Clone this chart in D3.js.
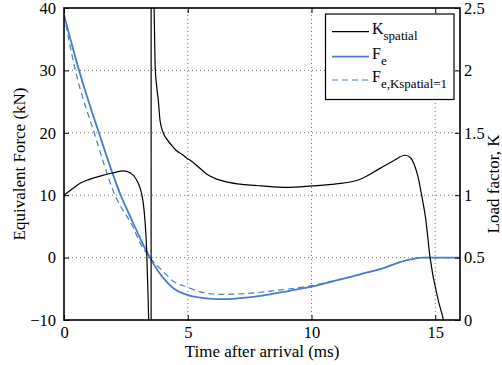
<!DOCTYPE html>
<html>
<head>
<meta charset="utf-8">
<script src="https://cdn.jsdelivr.net/npm/d3@7"></script>
<style>
  html, body { margin: 0; padding: 0; background: #fff; }
  svg { display: block; }
  svg text { font-family: "Liberation Serif", "DejaVu Serif", "Times New Roman", Tinos, serif; }
</style>
</head>
<body>
<svg id="chart" width="502" height="365"></svg>
<script>
// ---- data ----
const timeK = [0, 0.3, 0.65, 1.0, 1.5, 2.0, 2.4, 2.67, 2.91, 3.0, 3.1, 3.2, 3.27, 3.34, 3.38, 3.42, 3.46, 3.5, 3.515,
  3.525, 3.56, 3.6, 3.64, 3.68, 3.74, 3.81, 3.88, 4.01, 4.19, 4.35, 4.53, 4.82, 4.96, 5.1, 5.23, 5.49, 5.76, 6.1,
  6.6, 7.3, 8.0, 9, 10, 11, 12, 12.77, 13.3, 13.78, 14.0, 14.18, 14.3, 14.45, 14.61, 14.79, 15.12, 15.32, 15.4];
const kSpatial = [1.0, 1.045, 1.095, 1.125, 1.155, 1.18, 1.195, 1.18, 1.13, 1.095, 1.04, 0.94, 0.80, 0.56, 0.30, 0.0, -0.6, -4, -60,
  60, 6, 3.2, 2.5, 2.05, 1.88, 1.76, 1.6, 1.5, 1.44, 1.40, 1.36, 1.32, 1.296, 1.28, 1.26, 1.216, 1.17, 1.135,
  1.105, 1.085, 1.074, 1.063, 1.074, 1.09, 1.13, 1.215, 1.274, 1.32, 1.30, 1.23, 1.15, 1.0, 0.815, 0.5, 0.16, 0.01, -0.06];

const timeF = [0, 0.61, 1.41, 2.29, 2.8, 3.1, 3.47, 4.0, 4.42, 5.0, 5.5, 6.0, 6.5, 7.0, 8.0, 9.0, 10.0, 11.0, 12.0, 13.0, 13.6, 14.0, 14.5, 16];
const forceE = [38.9, 30, 20, 10, 5.5, 2.9, 0, -3.2, -4.9, -6.0, -6.4, -6.6, -6.65, -6.55, -6.1, -5.4, -4.65, -3.65, -2.65, -1.55, -0.7, -0.3, 0, 0];

const timeF1 = [0, 0.46, 1.22, 2.06, 2.8, 3.07, 3.47, 4.0, 4.42, 5.0, 5.5, 6.0, 6.5, 7.4, 8.7, 10.0, 11.0, 12.0, 13.0, 13.6, 14.0, 14.5, 16];
const forceE1 = [38.9, 30, 20, 10, 4.8, 2.4, 0, -2.2, -3.8, -4.75, -5.5, -5.83, -5.9, -5.75, -5.2, -4.5, -3.6, -2.65, -1.5, -0.7, -0.3, 0, 0];

const xTicks = [0, 5, 10, 15];
const yTicksF = [-10, 0, 10, 20, 30, 40];
const yTicksK = [0, 0.5, 1, 1.5, 2, 2.5];
const xTitle = "Time after arrival (ms)";
const yTitleLeft = "Equivalent Force (kN)";
const yTitleRight = "Load factor, K";

// ---- layout ----
const L = 64, R = 460, T = 8, B = 320;
const blue = "#4a7cc9";
const svg = d3.select("#chart");
const x = d3.scaleLinear().domain([0, 16]).range([L, R]);
const yF = d3.scaleLinear().domain([-10, 40]).range([B, T]);
const yK = d3.scaleLinear().domain([0, 2.5]).range([B, T]);

svg.append("defs").append("clipPath").attr("id", "plotclip")
  .append("rect").attr("x", L).attr("y", T).attr("width", R - L).attr("height", B - T);

// grid
const grid = svg.append("g").attr("stroke", "#555").attr("stroke-width", 0.8).attr("stroke-dasharray", "1,3");
grid.selectAll(".gx").data(xTicks.filter(d => d > 0)).join("line")
  .attr("x1", d => x(d)).attr("x2", d => x(d)).attr("y1", B).attr("y2", T);
grid.selectAll(".gy").data(yTicksF.filter(d => d > -10 && d < 40)).join("line")
  .attr("y1", d => yF(d)).attr("y2", d => yF(d)).attr("x1", L).attr("x2", R);

// lines
const plot = svg.append("g").attr("clip-path", "url(#plotclip)");
const lineK = d3.line().x(d => x(d[0])).y(d => yK(d[1])).curve(d3.curveMonotoneX);
const lineF = d3.line().x(d => x(d[0])).y(d => yF(d[1])).curve(d3.curveMonotoneX);

plot.append("path").datum(timeF1.map((t, i) => [t, forceE1[i]]))
  .attr("d", lineF).attr("fill", "none").attr("stroke", blue).attr("stroke-width", 1.2).attr("stroke-dasharray", "6,4");
plot.append("path").datum(timeF.map((t, i) => [t, forceE[i]]))
  .attr("d", lineF).attr("fill", "none").attr("stroke", blue).attr("stroke-width", 1.8);
plot.append("path").datum(timeK.map((t, i) => [t, kSpatial[i]]))
  .attr("d", lineK).attr("fill", "none").attr("stroke", "#000").attr("stroke-width", 1.2);

// axes
const fontSize = 16.5;
function styleAxis(g) {
  g.attr("font-family", null).attr("font-size", null);
  g.select(".domain").remove();
  g.selectAll("line").attr("stroke", "#000").attr("stroke-width", 1);
  g.selectAll("text").attr("font-size", fontSize).attr("fill", "#000");
}
svg.append("g").attr("transform", `translate(${L},0)`)
  .call(d3.axisLeft(yF).tickValues(yTicksF).tickSize(-5).tickPadding(8)).call(styleAxis);
svg.append("g").attr("transform", `translate(0,${B})`)
  .call(d3.axisBottom(x).tickValues(xTicks).tickSize(-5).tickPadding(6)).call(styleAxis);
svg.append("g").attr("transform", `translate(0,${T})`)
  .call(d3.axisTop(x).tickValues(xTicks).tickSize(-5).tickFormat("")).call(styleAxis);
svg.append("g").attr("transform", `translate(${R},0)`)
  .call(d3.axisRight(yK).tickValues(yTicksK).tickSize(-5).tickPadding(4).tickFormat(d3.format("~g"))).call(styleAxis);

// box
svg.append("rect").attr("x", L).attr("y", T).attr("width", R - L).attr("height", B - T)
  .attr("fill", "none").attr("stroke", "#000").attr("stroke-width", 1.6);

// titles
svg.append("text").attr("x", (L + R) / 2).attr("y", 357).attr("text-anchor", "middle")
  .attr("font-size", 17).text(xTitle);
svg.append("text").attr("transform", `translate(25,${(T + B) / 2}) rotate(-90)`).attr("text-anchor", "middle")
  .attr("font-size", 17).text(yTitleLeft);
svg.append("text").attr("transform", `translate(499,184) rotate(-90)`).attr("text-anchor", "middle")
  .attr("font-size", 17).text(yTitleRight);

// legend
const leg = svg.append("g");
leg.append("rect").attr("x", 325.5).attr("y", 14).attr("width", 128.5).attr("height", 85.5)
  .attr("fill", "#fff").attr("stroke", "#000").attr("stroke-width", 1.2);
const legendItems = [
  { main: "K", sub: "spatial", y: 31.7, color: "#000", w: 1.2, dash: null },
  { main: "F", sub: "e", y: 56.7, color: blue, w: 1.8, dash: null },
  { main: "F", sub: "e,Kspatial=1", y: 80, color: blue, w: 1.2, dash: "6,4" }
];
legendItems.forEach(it => {
  leg.append("line").attr("x1", 332).attr("x2", 369).attr("y1", it.y).attr("y2", it.y)
    .attr("stroke", it.color).attr("stroke-width", it.w).attr("stroke-dasharray", it.dash);
  const t = leg.append("text").attr("x", 372).attr("y", it.y + 1.8).attr("font-size", 16);
  t.append("tspan").text(it.main);
  t.append("tspan").attr("font-size", 13).attr("dy", 6).text(it.sub);
});
</script>
</body>
</html>
